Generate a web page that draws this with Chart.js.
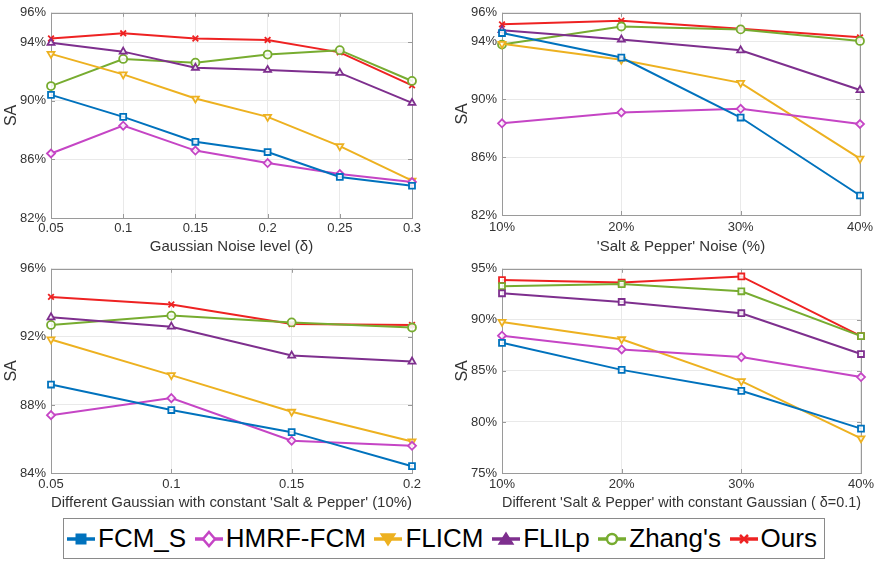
<!DOCTYPE html>
<html>
<head>
<meta charset="utf-8">
<script src="https://cdn.jsdelivr.net/npm/chart.js@4.4.1/dist/chart.umd.min.js"></script>
<style>
  body { margin:0; width:878px; height:562px; background:#fff; position:relative; overflow:hidden;
         font-family:'Liberation Sans', Arial, sans-serif; }
  .panel { position:absolute; }
  #legend { position:absolute; left:63px; top:518px; width:750px; height:39px; border:1px solid #8a8a8a;
            display:flex; align-items:center; justify-content:space-between; padding:0 7px 0 3px; box-sizing:content-box; background:#fff; }
  #legend .item { display:flex; align-items:center; font-size:26px; color:#000; white-space:nowrap; }
  #legend svg { margin-right:3px; }
</style>
</head>
<body>
<div class="panel" style="left:0;top:0;width:440px;height:256px"><canvas id="chart-gauss"></canvas></div>
<div class="panel" style="left:440px;top:0;width:438px;height:256px"><canvas id="chart-sp"></canvas></div>
<div class="panel" style="left:0;top:256px;width:440px;height:259px"><canvas id="chart-mix-gauss"></canvas></div>
<div class="panel" style="left:440px;top:256px;width:438px;height:259px"><canvas id="chart-mix-sp"></canvas></div>
<div id="legend"></div>

<script>
/* ── Segmentation accuracy (SA) under noise ─────────────────────────────────── */

const SERIES = ['FCM_S', 'HMRF-FCM', 'FLICM', 'FLILp', "Zhang's", 'Ours'];
const COLORS = ['#0072bd', '#c545c5', '#edb120', '#7e2f8e', '#77ac30', '#ee2222'];

// x categories
const gaussLevels    = ['0.05', '0.1', '0.15', '0.2', '0.25', '0.3'];
const spLevels       = ['10%', '20%', '30%', '40%'];
const mixGaussLevels = ['0.05', '0.1', '0.15', '0.2'];
const mixSpLevels    = ['10%', '20%', '30%', '40%'];

// y tick values (first/last are the axis limits)
const gaussTicks    = [82, 86, 90, 94, 96];
const spTicks       = [82, 86, 90, 94, 96];
const mixGaussTicks = [84, 88, 92, 96];
const mixSpTicks    = [75, 80, 85, 90, 95];

// (1) Gaussian noise level
const gaussFCMS  = [90.4, 88.9, 87.2, 86.5, 84.8, 84.2];
const gaussHMRF  = [86.4, 88.3, 86.6, 85.75, 85.0, 84.45];
const gaussFLICM = [93.2, 91.8, 90.15, 88.9, 86.9, 84.55];
const gaussFLILp = [93.95, 93.35, 92.25, 92.1, 91.9, 89.85];
const gaussZhang = [91.0, 92.85, 92.6, 93.15, 93.45, 91.35];
const gaussOurs  = [94.25, 94.6, 94.25, 94.15, 93.3, 91.05];

// (2) Salt & pepper noise
const spFCMS  = [94.6, 92.9, 88.75, 83.35];
const spHMRF  = [88.35, 89.1, 89.35, 88.3];
const spFLICM = [93.85, 92.75, 91.15, 85.9];
const spFLILp = [94.8, 94.15, 93.4, 90.65];
const spZhang = [93.8, 95.05, 94.85, 94.05];
const spOurs  = [95.2, 95.45, 94.9, 94.3];

// (3) different Gaussian, constant salt & pepper 10%
const mixGaussFCMS  = [89.2, 87.7, 86.4, 84.4];
const mixGaussHMRF  = [87.4, 88.4, 85.9, 85.6];
const mixGaussFLICM = [91.85, 89.75, 87.6, 85.85];
const mixGaussFLILp = [93.15, 92.6, 90.9, 90.55];
const mixGaussZhang = [92.7, 93.25, 92.85, 92.55];
const mixGaussOurs  = [94.35, 93.9, 92.75, 92.7];

// (4) different salt & pepper, constant Gaussian 0.1
const mixSpFCMS  = [87.75, 85.1, 83.05, 79.35];
const mixSpHMRF  = [88.45, 87.1, 86.35, 84.4];
const mixSpFLICM = [89.8, 88.1, 84.0, 78.4];
const mixSpFLILp = [92.6, 91.75, 90.65, 86.65];
const mixSpZhang = [93.3, 93.5, 92.8, 88.4];
const mixSpOurs  = [93.9, 93.65, 94.25, 88.4];

// marker shapes (panel 4 draws most series with squares)
const MARKERS    = ['rect', 'rectRot', 'triangle', 'triangle', 'circle', 'crossRot'];
const MARKERS_BR = ['rect', 'rectRot', 'triangle', 'rect', 'rect', 'rect'];
const ROTATION   = [0, 0, 180, 0, 0, 0];

const FONT = "'Liberation Sans', Arial, sans-serif";

// ── Axes box + inner tick marks (MATLAB look) ─────────────────────────────────
const boxPlugin = {
  id: 'box',
  beforeDatasetsDraw(chart) {
    const { ctx, chartArea: a, scales: { x, y } } = chart;
    ctx.save();
    ctx.strokeStyle = '#9a9a9a';
    ctx.lineWidth = 1;
    ctx.beginPath();
    x.ticks.forEach((t, i) => {
      const px = Math.round(x.getPixelForTick(i)) + 0.5;
      ctx.moveTo(px, a.bottom); ctx.lineTo(px, a.bottom - 4);
      ctx.moveTo(px, a.top);    ctx.lineTo(px, a.top + 4);
    });
    y.ticks.forEach((t, i) => {
      const py = Math.round(y.getPixelForTick(i)) + 0.5;
      ctx.moveTo(a.left, py);  ctx.lineTo(a.left + 4, py);
      ctx.moveTo(a.right, py); ctx.lineTo(a.right - 4, py);
    });
    ctx.stroke();
    ctx.strokeRect(Math.round(a.left) + 0.5, Math.round(a.top) + 0.5,
                   Math.round(a.right - a.left), Math.round(a.bottom - a.top));
    ctx.restore();
  },
};

// ── Chart factory ─────────────────────────────────────────────────────────────
function makeChart(id, labels, series, yTicks, xTitle, g, markers) {
  const datasets = series.map((data, i) => ({
    label: SERIES[i],
    data,
    borderColor: COLORS[i],
    backgroundColor: '#ffffff',
    pointBorderColor: COLORS[i],
    pointBackgroundColor: 'rgba(255,255,255,0.85)',
    pointStyle: markers[i],
    pointRotation: ROTATION[i],
    pointRadius: markers[i] === 'rect' ? 4.2 : 4,
    pointBorderWidth: 1.8,
    borderWidth: 2,
    tension: 0,
    clip: false,
  }));

  return new Chart(document.getElementById(id), {
    type: 'line',
    data: { labels, datasets },
    options: {
      responsive: true, maintainAspectRatio: false, animation: false,
      layout: { padding: { left: 0, right: g.padR, top: g.padT, bottom: 0 } },
      plugins: { legend: { display: false }, tooltip: { enabled: false } },
      scales: {
        x: {
          offset: false,
          grid: { color: '#e9e9e9', drawTicks: false },
          border: { display: false },
          ticks: { color: '#333', padding: g.tickPadX, font: { family: FONT, size: 13 }, maxRotation: 0, autoSkip: false },
          title: { display: true, text: xTitle, color: '#333', font: { family: FONT, size: 15 },
                   padding: { top: 0, bottom: g.titlePadX } },
          afterFit: s => { s.height = g.xH; },
        },
        y: {
          min: yTicks[0], max: yTicks[yTicks.length - 1],
          grid: { color: '#e9e9e9', drawTicks: false },
          border: { display: false },
          ticks: { color: '#333', padding: 5, font: { family: FONT, size: 13 },
                   callback: v => v + '%' },
          afterBuildTicks: s => { s.ticks = yTicks.map(v => ({ value: v })); },
          title: { display: true, text: 'SA', color: '#333', font: { family: FONT, size: 16 },
                   padding: { top: g.titlePadY, bottom: 0 } },
          afterFit: s => { s.width = g.yW; },
        },
      },
    },
    plugins: [boxPlugin],
  });
}

makeChart('chart-gauss', gaussLevels,
  [gaussFCMS, gaussHMRF, gaussFLICM, gaussFLILp, gaussZhang, gaussOurs],
  gaussTicks, 'Gaussian Noise level (δ)',
  { padR: 28, padT: 7, yW: 51, xH: 38, tickPadX: 3, titlePadX: 0, titlePadY: 2 }, MARKERS);

makeChart('chart-sp', spLevels,
  [spFCMS, spHMRF, spFLICM, spFLILp, spZhang, spOurs],
  spTicks, "'Salt & Pepper' Noise (%)",
  { padR: 17, padT: 7, yW: 62, xH: 41, tickPadX: 5, titlePadX: 0, titlePadY: 13 }, MARKERS);

makeChart('chart-mix-gauss', mixGaussLevels,
  [mixGaussFCMS, mixGaussHMRF, mixGaussFLICM, mixGaussFLILp, mixGaussZhang, mixGaussOurs],
  mixGaussTicks, "Different Gaussian with constant 'Salt & Pepper' (10%)",
  { padR: 28, padT: 8, yW: 51, xH: 42, tickPadX: 4, titlePadX: 3, titlePadY: 2 }, MARKERS);

makeChart('chart-mix-sp', mixSpLevels,
  [mixSpFCMS, mixSpHMRF, mixSpFLICM, mixSpFLILp, mixSpZhang, mixSpOurs],
  mixSpTicks, "Different 'Salt & Pepper' with constant Gaussian ( δ=0.1)",
  { padR: 17, padT: 10, yW: 62, xH: 42, tickPadX: 4, titlePadX: 3, titlePadY: 13 }, MARKERS_BR);

// ── Shared legend ─────────────────────────────────────────────────────────────
function legendIcon(i) {
  const c = COLORS[i];
  const shapes = [
    `<rect x="9.5" y="9.5" width="9" height="9" fill="${c}" stroke="${c}" stroke-width="2"/>`,
    `<polygon points="14,7 20,14 14,21 8,14" fill="#fff" stroke="${c}" stroke-width="2.5"/>`,
    `<polygon points="7,9 21,9 14,20" fill="${c}" stroke="${c}" stroke-width="1.5"/>`,
    `<polygon points="7,19 21,19 14,8" fill="${c}" stroke="${c}" stroke-width="1.5"/>`,
    `<circle cx="14" cy="14" r="5" fill="#fff" stroke="${c}" stroke-width="2.5"/>`,
    `<path d="M10 10L18 18M18 10L10 18" stroke="${c}" stroke-width="2.5"/>`,
  ];
  return `<svg width="28" height="28" viewBox="0 0 28 28">
    <line x1="0" y1="14" x2="28" y2="14" stroke="${c}" stroke-width="3.5"/>${shapes[i]}</svg>`;
}

document.getElementById('legend').innerHTML =
  SERIES.map((name, i) => `<div class="item">${legendIcon(i)}<span>${name}</span></div>`).join('');
</script>
</body>
</html>
